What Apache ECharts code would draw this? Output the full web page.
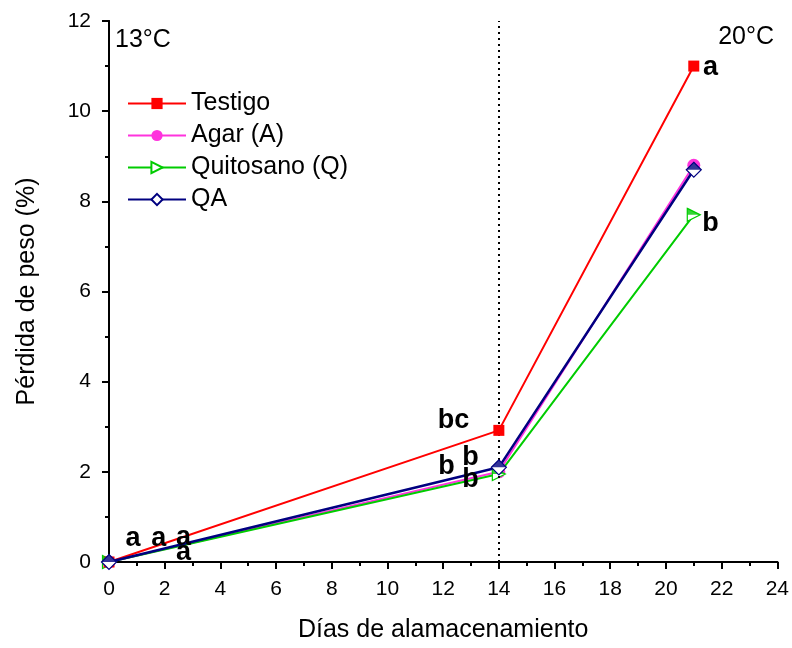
<!DOCTYPE html>
<html><head><meta charset="utf-8">
<script src="https://cdn.jsdelivr.net/npm/echarts@6/dist/echarts.min.js"></script>
<style>html,body{margin:0;padding:0;background:#fff}#c{width:792px;height:648px}</style>
</head><body><div id="c"></div>
<script>
const days = [0, 14, 21];
const testigo = [0.0, 2.92, 11.0];
const agar = [0.0, 2.0, 8.8];
const quitosano = [0.0, 1.95, 7.7];
const qa = [0.0, 2.1, 8.7];
const xTicks = [0, 2, 4, 6, 8, 10, 12, 14, 16, 18, 20, 22, 24];
const yTicks = [0, 2, 4, 6, 8, 10, 12];
const letters = ['a', 'a', 'a', 'a', 'bc', 'b', 'b', 'b', 'a', 'b'];
const letterX = [0.86, 1.79, 2.68, 2.68, 12.37, 12.98, 12.12, 12.98, 21.6, 21.6];
const letterY = [0.51, 0.51, 0.55, 0.22, 3.14, 2.32, 2.12, 1.82, 10.96, 7.5];
const tempLabels = ['13°C', '20°C'];
const seriesNames = ['Testigo', 'Agar (A)', 'Quitosano (Q)', 'QA'];

const pairs = (ys) => days.map((d, i) => [d, ys[i]]);
const font = 'Liberation Sans, Arial, sans-serif';
const chart = echarts.init(document.getElementById('c'));
const triPath = 'path://M0,0 L10,5 L0,10 Z';
const triTop = 'path://M0,0 L10,5 L0,5 Z';
const diaTop = 'path://M0,5 L5,0 L10,5 Z';
const cT = '#ff0000', cA = '#ff33dd', cQ = '#00cc00', cQA = '#000080';

chart.setOption({
  animation: false,
  grid: {left: 109, right: 12, top: 21, bottom: 85},
  legend: {
    data: seriesNames, orient: 'vertical', left: 122, top: 86, itemGap: 7,
    itemWidth: 58, itemHeight: 14,
    textStyle: {fontFamily: font, fontSize: 25, color: '#000'}
  },
  xAxis: [{
    type: 'value', min: xTicks[0], max: xTicks[xTicks.length - 1], interval: 2,
    name: 'Días de alamacenamiento', nameLocation: 'middle', nameGap: 56,
    nameTextStyle: {fontFamily: font, fontSize: 25, color: '#000'},
    axisLine: {onZero: false, lineStyle: {color: '#000', width: 2}},
    axisTick: {length: 7, lineStyle: {color: '#000', width: 2}},
    minorTick: {show: true, splitNumber: 2, length: 4, lineStyle: {color: '#000', width: 2}},
    axisLabel: {fontFamily: font, fontSize: 21, color: '#000', margin: 17},
    splitLine: {show: false}
  }, {
    type: 'value', position: 'top', min: 0, max: 24, interval: 1,
    axisLine: {show: true, lineStyle: {color: '#000', width: 2}},
    axisTick: {show: true, inside: true, length: 3, lineStyle: {color: '#000', width: 1}},
    axisLabel: {show: false}, splitLine: {show: false}
  }],
  yAxis: [{
    type: 'value', min: yTicks[0], max: yTicks[yTicks.length - 1], interval: 2,
    name: 'Pérdida de peso (%)', nameLocation: 'middle', nameGap: 69,
    nameTextStyle: {fontFamily: font, fontSize: 25, color: '#000'},
    axisLine: {show: true, onZero: false, lineStyle: {color: '#000', width: 2}},
    axisTick: {show: true, length: 7, lineStyle: {color: '#000', width: 2}},
    minorTick: {show: true, splitNumber: 2, length: 4, lineStyle: {color: '#000', width: 2}},
    axisLabel: {fontFamily: font, fontSize: 21, color: '#000', margin: 18},
    splitLine: {show: false}
  }, {
    type: 'value', position: 'right', min: 0, max: 12,
    axisLine: {show: true, lineStyle: {color: '#000', width: 2}},
    axisTick: {show: false}, axisLabel: {show: false}, splitLine: {show: false}
  }],
  series: [
    {name: 'Testigo', type: 'line', data: pairs(testigo),
     lineStyle: {width: 2, color: cT}, symbol: 'rect', symbolSize: 11, itemStyle: {color: cT}, z: 5,
     markLine: {silent: true, symbol: 'none', label: {show: false},
       lineStyle: {color: '#000', type: [2, 4], width: 2},
       data: [{xAxis: 14}]}},
    {name: 'Agar (A)', type: 'line', data: pairs(agar),
     lineStyle: {width: 2, color: cA}, symbol: 'circle', symbolSize: 13, itemStyle: {color: cA}, z: 3},
    {name: 'Quitosano (Q)', type: 'line', data: pairs(quitosano),
     lineStyle: {width: 2, color: cQ}, symbol: triPath, symbolSize: 13,
     itemStyle: {color: '#fff', borderColor: cQ, borderWidth: 1.2}, z: 4},
    {name: 'Q_top', type: 'scatter', data: pairs(quitosano), symbol: triTop,
     symbolSize: [13, 6.5], symbolOffset: [0, -3.25], itemStyle: {color: cQ}, z: 6, silent: true},
    {name: 'QA', type: 'line', data: pairs(qa),
     lineStyle: {width: 2.5, color: cQA}, symbol: 'diamond', symbolSize: 15,
     itemStyle: {color: '#fff', borderColor: cQA, borderWidth: 1.2}, z: 6},
    {name: 'QA_top', type: 'scatter', data: pairs(qa), symbol: diaTop,
     symbolSize: [15, 7.5], symbolOffset: [0, -3.75], itemStyle: {color: cQA}, z: 7, silent: true},
    {name: 'letters', type: 'scatter', symbolSize: 1, z: 8, silent: true,
     itemStyle: {color: 'rgba(0,0,0,0)'},
     data: letterX.map((x, i) => ({value: [x, letterY[i]], label: {formatter: letters[i]}})),
     label: {show: true, position: 'inside', fontFamily: font, fontSize: 27, fontWeight: 'bold',
             color: '#000', textBorderWidth: 0, opacity: 1}}
  ],
  graphic: [
    {type: 'text', left: 115, top: 28, style: {text: tempLabels[0], font: '25px ' + font, fill: '#000'}},
    {type: 'text', right: 18, top: 25, style: {text: tempLabels[1], font: '25px ' + font, fill: '#000'}}
  ]
});
</script></body></html>
